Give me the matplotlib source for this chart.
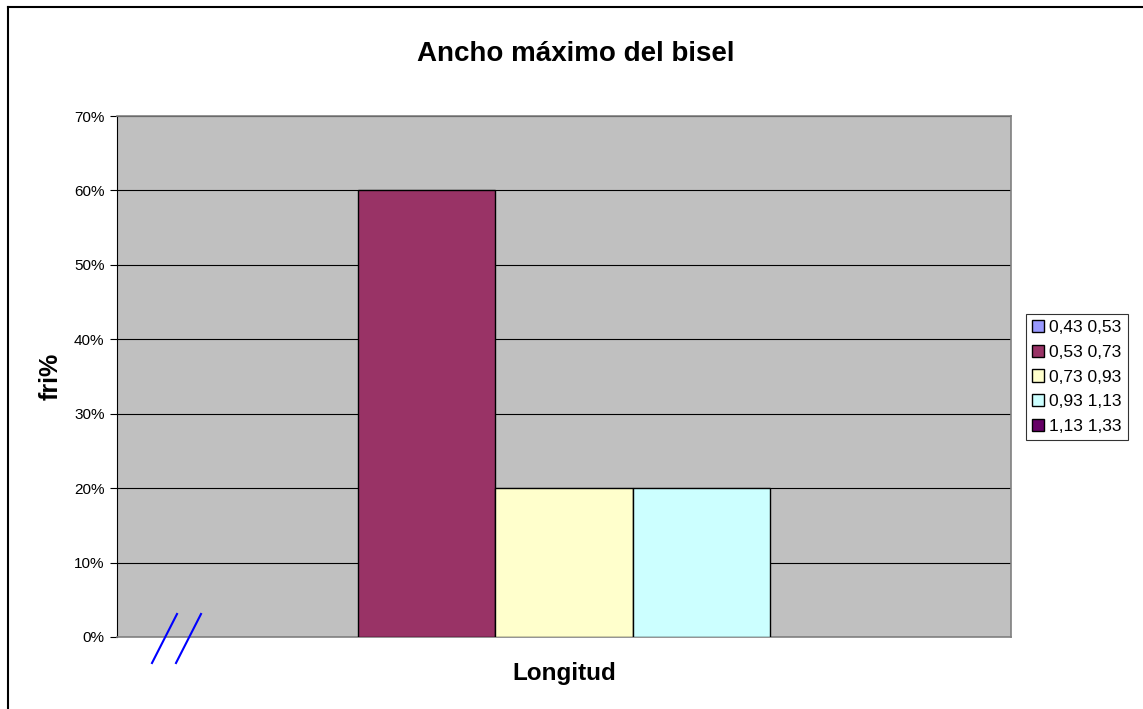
import numpy as np
import matplotlib.pyplot as plt
from matplotlib.lines import Line2D
from matplotlib.patches import Patch

# dati
series = ['0,43 0,53', '0,53 0,73', '0,73 0,93', '0,93 1,13', '1,13 1,33']
valori = [0, 60, 20, 20, 0]  # fri%
colori = ['#9999FF', '#993366', '#FFFFCC', '#CCFFFF', '#660066']

W, H = 1143, 709
fig = plt.figure(figsize=(W / 100, H / 100), dpi=100)
plt.rcParams['font.family'] = ['Liberation Sans', 'DejaVu Sans']

ax = fig.add_axes([117 / W, (H - 637) / H, 894 / W, 521 / H])
ax.set_facecolor('#C0C0C0')

# larghezza barre stile Excel (gap 150%)
w = 1 / 6.5
for i, (s, v, c) in enumerate(zip(series, valori, colori)):
    x = -0.5 + 0.75 * w + (i + 0.5) * w
    ax.bar(x, v, width=w, color=c, edgecolor='black',
           linewidth=1 if v > 0 else 0, zorder=3)

ax.set_xlim(-0.5, 0.5)
ax.set_ylim(0, 70)
ax.set_yticks(range(0, 71, 10))
ax.set_yticklabels([f'{t}%' for t in range(0, 71, 10)], fontsize=11)
ax.set_xticks([])
ax.yaxis.grid(True, color='black', linewidth=0.8, zorder=1)
ax.set_axisbelow(True)
ax.tick_params(axis='y', length=5, width=0.8, pad=4, direction='out')

ax.spines['left'].set_color('black')
for side in ['bottom', 'top', 'right']:
    ax.spines[side].set_color('#808080')
    ax.spines[side].set_linewidth(1.2)

ax.set_xlabel('Longitud', fontsize=17.5, fontweight='bold', labelpad=18)
ax.set_ylabel('fri%', fontsize=18, fontweight='bold', labelpad=8)
fig.text(576 / W, 1 - 54 / H, 'Ancho máximo del bisel', fontsize=20,
         fontweight='bold', ha='center', va='center')

# legenda
handles = [Patch(facecolor=c, edgecolor='black', linewidth=1) for c in colori]
leg = fig.legend(handles, series, loc='center', bbox_to_anchor=(1077 / W, 1 - 377 / H),
                 fontsize=12.5, frameon=True, fancybox=False, edgecolor='black',
                 handlelength=0.7, handleheight=0.7, handletextpad=0.3,
                 labelspacing=0.55, borderpad=0.35, borderaxespad=0)
leg.get_frame().set_linewidth(0.8)

# segni di interruzione asse
for x0 in [152, 176]:
    fig.add_artist(Line2D([x0 / W, (x0 + 25) / W], [1 - 663 / H, 1 - 614 / H],
                          color='blue', linewidth=1.5))

# cornice del grafico (solo lato sinistro e superiore)
fig.add_artist(Line2D([8 / W, 8 / W], [0, 1 - 7 / H], color='black', linewidth=1.5))
fig.add_artist(Line2D([8 / W, 1], [1 - 7 / H, 1 - 7 / H], color='black', linewidth=1.5))

plt.savefig('out.png', dpi=100)
